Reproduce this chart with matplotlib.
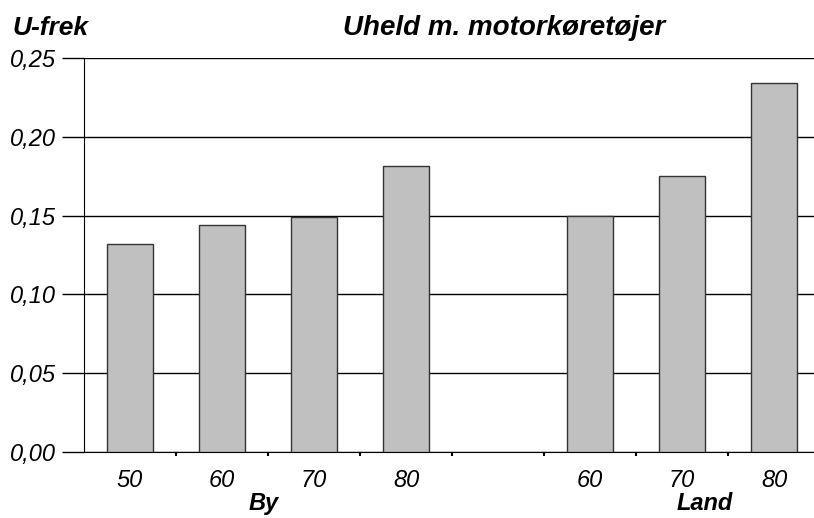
import numpy as np
import matplotlib.pyplot as plt
from matplotlib.ticker import FixedLocator, FuncFormatter

plt.rcParams['font.family'] = ['Liberation Sans', 'DejaVu Sans']

# data
speed_labels = ['50', '60', '70', '80', '', '60', '70', '80']
u_frek = [0.132, 0.144, 0.149, 0.1815, np.nan, 0.150, 0.175, 0.234]
group_names = ['By', 'Land']
group_pos = [1.45, 6.25]
y_ticks = [0.0, 0.05, 0.10, 0.15, 0.20, 0.25]

W, H = 814, 518
fig = plt.figure(figsize=(W / 100, H / 100), dpi=100)
ax = fig.add_axes([84 / W, (H - 452) / H, (820 - 84) / W, (452 - 58) / H])

x = np.arange(len(speed_labels))
ax.bar(x, u_frek, width=0.5, color='#c0c0c0', edgecolor='#333333',
       linewidth=1.0, zorder=3)

ax.set_xlim(-0.5, len(speed_labels) - 0.5)
ax.set_ylim(0, 0.25)

# grid lines
ax.set_yticks(y_ticks)
ax.yaxis.grid(True, color='black', linewidth=1.0, zorder=0)
ax.yaxis.set_major_formatter(FuncFormatter(lambda v, p: f"{v:.2f}".replace('.', ',')))
ax.tick_params(axis='y', length=16, width=1.0, labelsize=17, pad=4)
for lbl in ax.get_yticklabels():
    lbl.set_style('italic')

# x labels
ax.set_xticks(x)
ax.set_xticklabels(speed_labels, fontsize=17, style='italic')
ax.tick_params(axis='x', length=0, pad=12)
ax.xaxis.set_minor_locator(FixedLocator(x[:-1] + 0.5))
ax.tick_params(axis='x', which='minor', length=3, width=1.5, direction='out')

for name, pos in zip(group_names, group_pos):
    ax.text(pos, -0.0325, name, ha='center', va='center', fontsize=17,
            fontweight='bold', style='italic')

for side in ['top', 'right']:
    ax.spines[side].set_visible(False)

fig.text(12 / W, 1 - 28 / H, 'U-frek', fontsize=19, fontweight='bold',
         style='italic', ha='left', va='center')
fig.text(504 / W, 1 - 28 / H, 'Uheld m. motorkøretøjer', fontsize=20,
         fontweight='bold', style='italic', ha='center', va='center')

fig.savefig('out.png', dpi=100)
